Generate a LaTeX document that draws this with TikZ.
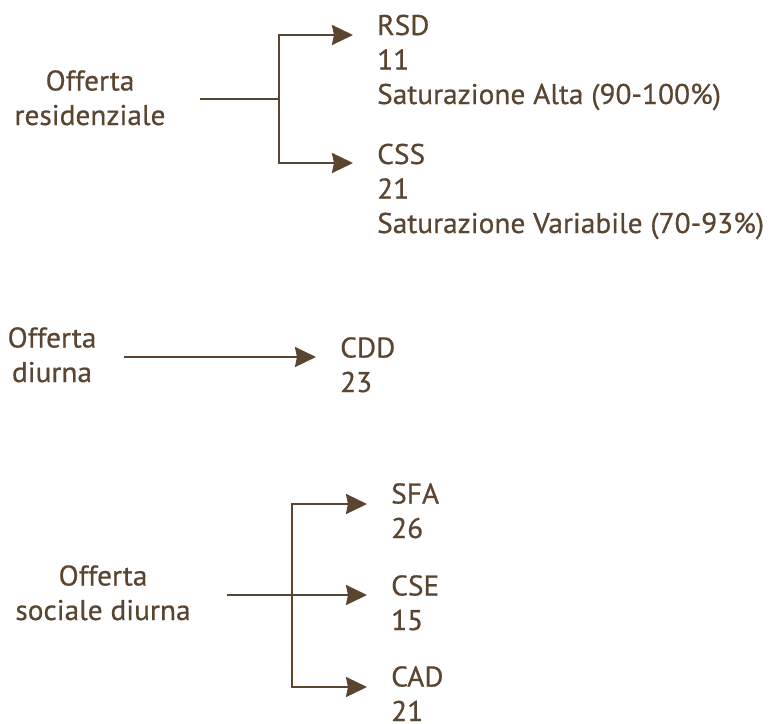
\documentclass[tikz,border=0pt]{standalone}
\usepackage{fontspec}
\setmainfont{PT Sans}[FakeStretch=1.03, FakeBold=0.6]
\usetikzlibrary{arrows.meta}
\definecolor{ink}{HTML}{5A4530}
\tikzset{
  lbl/.style={text=ink, inner sep=0pt, font=\fontsize{28.5pt}{34.5pt}\selectfont},
  src/.style={lbl, align=center, anchor=base},
  dst/.style={lbl, align=left, anchor=base west},
  conn/.style={draw=ink, line width=2.4pt, line join=miter},
  arr/.style={conn, -{Stealth[length=21pt,width=20pt,inset=2pt]}},
}
\begin{document}
\begin{tikzpicture}[x=1pt,y=-1pt]
\useasboundingbox (0,0) rectangle (775,723);
% residential
\node[src] (res) at (90,125) {Offerta\\residenziale};
\node[dst] (rsd) at (377,104) {RSD\\11\\Saturazione Alta (90-100\%)};
\node[dst] (css) at (377,233) {CSS\\21\\Saturazione Variabile (70-93\%)};
\coordinate (r0) at (200,99);
\coordinate (rb) at (279,99);
\draw[conn] (r0) -- (rb);
\draw[arr, shorten >=24pt] (rb) |- ([yshift=69pt]rsd.base west);
\draw[arr, shorten >=24pt] (rb) |- ([yshift=70pt]css.base west);
% day
\node[src] (diu) at (52,382) {Offerta\\diurna};
\node[dst] (cdd) at (340,392) {CDD\\23};
\coordinate (d0) at (124,357);
\draw[arr, shorten >=24pt] (d0) -- (d0 -| cdd.base west);
% social day
\node[src] (soc) at (103,620) {Offerta\\sociale diurna};
\node[dst] (sfa) at (391,538) {SFA\\26};
\node[dst] (cse) at (391,630) {CSE\\15};
\node[dst] (cad) at (391,721) {CAD\\21};
\coordinate (s0) at (227,595);
\coordinate (sb) at (292,595);
\draw[arr, shorten >=24pt] (s0) -- (s0 -| cse.base west);
\draw[arr, shorten >=24pt] (sb) |- ([yshift=34pt]sfa.base west);
\draw[arr, shorten >=24pt] (sb) |- ([yshift=34pt]cad.base west);
\end{tikzpicture}
\end{document}
